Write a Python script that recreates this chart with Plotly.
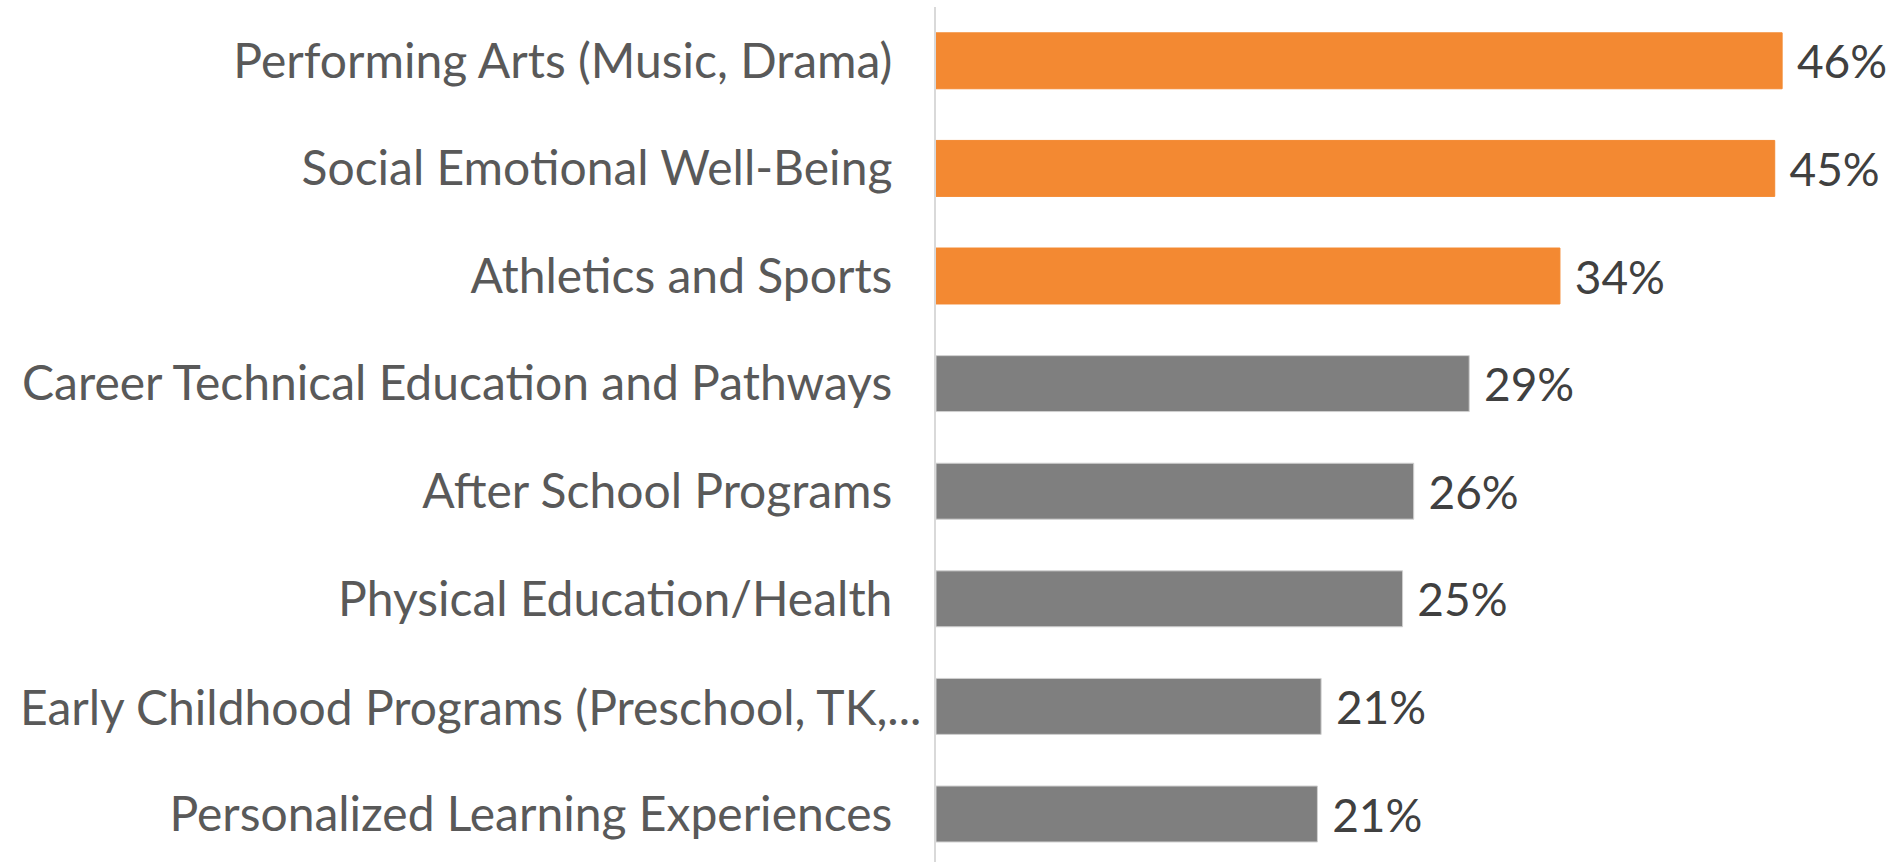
import plotly.graph_objects as go

categories = [
    "Performing Arts (Music, Drama)",
    "Social Emotional Well-Being",
    "Athletics and Sports",
    "Career Technical Education and Pathways",
    "After School Programs",
    "Physical Education/Health",
    "Early Childhood Programs (Preschool, TK,...",
    "Personalized Learning Experiences",
]
values = [45.7, 45.3, 33.7, 28.8, 25.8, 25.2, 20.8, 20.6]
value_labels = ["46%", "45%", "34%", "29%", "26%", "25%", "21%", "21%"]
highlight = [True, True, True, False, False, False, False, False]
# the truncated category label overflows and is left-aligned in the original
overflow_label = "Early Childhood Programs (Preschool, TK,..."

ORANGE = "#F38932"
GRAY = "#7F7F7F"
colors = [ORANGE if h else GRAY for h in highlight]
line_colors = [ORANGE if h else "#D0D0D0" for h in highlight]

LABEL_FONT = dict(family="Lato", size=48, color="#595959")

fig = go.Figure(
    go.Bar(
        x=values,
        y=categories,
        orientation="h",
        marker=dict(color=colors, line=dict(color=line_colors, width=1)),
        text=value_labels,
        texttemplate=" %{text}",
        textposition="outside",
        textfont=dict(family="Lato", size=46, color="#404040"),
        cliponaxis=False,
        hoverinfo="skip",
    )
)

ticktext = ["" if c == overflow_label else c for c in categories]

fig.update_layout(
    width=1901,
    height=862,
    margin=dict(l=936, r=10, t=7, b=0),
    paper_bgcolor="white",
    plot_bgcolor="white",
    bargap=0.48,
    showlegend=False,
    font=dict(family="Lato"),
    annotations=[
        dict(
            text=overflow_label,
            xref="paper",
            x=-0.961,
            xanchor="left",
            yref="y",
            y=overflow_label,
            yanchor="middle",
            showarrow=False,
            font=LABEL_FONT,
        )
    ],
)
fig.update_xaxes(
    range=[0, 51.58],
    showgrid=False,
    zeroline=False,
    showticklabels=False,
    showline=False,
)
fig.update_yaxes(
    type="category",
    range=[7.446, -0.5],
    tickvals=categories,
    ticktext=ticktext,
    showgrid=False,
    zeroline=False,
    showline=True,
    linecolor="#D9D9D9",
    linewidth=2,
    ticks="",
    ticklabelstandoff=32,
    tickfont=LABEL_FONT,
)

fig.write_html("out.html")
